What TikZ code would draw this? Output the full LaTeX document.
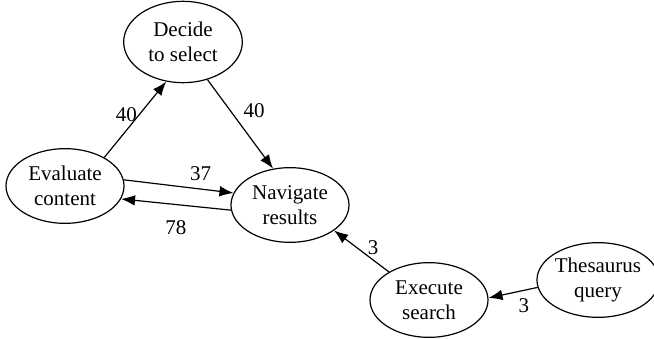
\documentclass[tikz,border=0pt]{standalone}
\usepackage{fontspec}
\setmainfont{Liberation Serif}
\usetikzlibrary{positioning,shapes.geometric,arrows.meta}

\begin{document}
\begin{tikzpicture}[%
    ->,
    line width=0.9pt,
    >={Latex[length=10.5pt,width=8pt]},
    on grid,
    activity/.style={%
      ellipse,
      minimum width=88.5pt,
      minimum height=56pt,
      inner sep=0pt,
      align=center,
      font=\fontsize{15.75}{18.75}\selectfont,
      draw
    },
    count/.style={%
      font=\fontsize{15.75}{18.75}\selectfont,
      inner sep=1.5pt
    }
  ]
    \useasboundingbox (-48.75pt,139.5pt) rectangle (441.75pt,-114.75pt);

    \node[activity] (evaluate)                                              {Evaluate\\content};
    \node[activity] (decide)    [minimum width=89pt, minimum height=61pt,
                                 above right=108pt and 88.5pt of evaluate]  {Decide\\to select};
    \node[activity] (navigate)  [below right=14.25pt and 168.75pt of evaluate] {Navigate\\results};
    \node[activity] (execute)   [below right=71.25pt and 104.25pt of navigate] {Execute\\search};
    \node[activity] (thesaurus) [minimum width=84pt,
                                 above right=15pt and 126.75pt of execute]  {Thesaurus\\query};

    \path (evaluate.36)   edge node[count, pos=0.57, left]       {40} (decide.247)
          (decide.303)    edge node[count, pos=0.35, right=8pt]  {40} (navigate.115)
          (evaluate.6)    edge node[count, pos=0.70, above=4pt]  {37} (navigate.168)
          (navigate.185)  edge node[count, pos=0.50, below=10pt] {78} (evaluate.347)
          (execute.145)   edge node[count, pos=0.59, right=6.5pt] {3} (navigate.330)
          (thesaurus.187) edge node[count, pos=0.28, below=4.5pt] {3} (execute.2)
          ;
\end{tikzpicture}
\end{document}
